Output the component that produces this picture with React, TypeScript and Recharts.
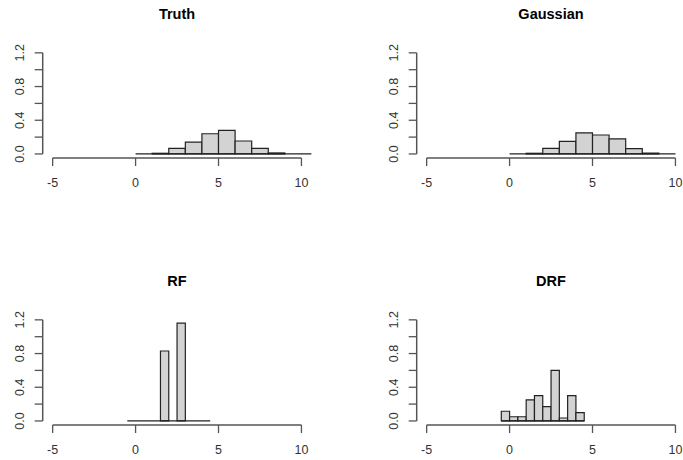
import React from "react";
import { ComposedChart, XAxis, YAxis, ReferenceArea, ReferenceLine } from "recharts";

const truthEdges = [0, 1, 2, 3, 4, 5, 6, 7, 8, 9, 10, 10.6];
const truthDens = [0, 0.008, 0.067, 0.14, 0.24, 0.28, 0.154, 0.067, 0.012, 0, 0];
const gaussEdges = [0, 1, 2, 3, 4, 5, 6, 7, 8, 9, 10];
const gaussDens = [0, 0.008, 0.067, 0.15, 0.25, 0.225, 0.18, 0.063, 0.01, 0];
const rfEdges = [-0.5, 0, 0.5, 1, 1.5, 2, 2.5, 3, 3.5, 4, 4.5];
const rfDens = [0, 0, 0, 0, 0.83, 0, 1.16, 0, 0, 0];
const drfEdges = [-0.5, 0, 0.5, 1, 1.5, 2, 2.5, 3, 3.5, 4, 4.5];
const drfDens = [0.115, 0.05, 0.05, 0.25, 0.3, 0.17, 0.6, 0.035, 0.3, 0.1];

const xTicks = [-5, 0, 5, 10];
const yTicks = [0, 0.2, 0.4, 0.6, 0.8, 1.0, 1.2];
const yLabels: Record<string, string> = { "0": "0.0", "0.4": "0.4", "0.8": "0.8", "1.2": "1.2" };

const FONT = "'Liberation Sans', Arial, sans-serif";
const AX = "#555";

const YTick = (props: any) => {
  const { x, y, payload } = props;
  const lab = yLabels[String(payload.value)];
  if (!lab) return null;
  const cx = x - 9;
  return (
    <text x={cx} y={y} transform={`rotate(-90 ${cx} ${y})`} textAnchor="middle" fontSize={12.5} fill="#333" fontFamily={FONT}>
      {lab}
    </text>
  );
};

function Panel({ title, edges, dens, left, top }: { title: string; edges: number[]; dens: number[]; left: number; top: number }) {
  const W = 341, H = 230;
  const m = { left: 42.7 - 30, right: W - 311.4, top: 48.8, bottom: H - 158 - 40 };
  return (
    <div style={{ position: "absolute", left, top, width: W, height: H }}>
      <div style={{ position: "absolute", left: 0, width: 354, top: 6, textAlign: "center", fontFamily: FONT, fontWeight: "bold", fontSize: 14.5, color: "#000" }}>
        {title}
      </div>
      <ComposedChart width={W} height={H} margin={m} data={[{ x: 0, y: 0 }]}>
        <XAxis type="number" dataKey="x" domain={[-5.6, 10.6]} ticks={xTicks} axisLine={false} tickLine={{ stroke: AX, strokeWidth: 1.3 }} tickSize={8}
          tick={{ fontSize: 12.5, fill: "#333", fontFamily: FONT }} tickMargin={12} interval={0} allowDataOverflow height={40} />
        <YAxis type="number" domain={[-0.048, 1.248]} ticks={yTicks} axisLine={false} tickLine={{ stroke: AX, strokeWidth: 1.3 }} tickSize={8}
          tick={<YTick />} interval={0} allowDataOverflow width={30} />
        <ReferenceLine segment={[{ x: -5, y: -0.048 }, { x: 10, y: -0.048 }]} stroke={AX} strokeWidth={1.5} ifOverflow="visible" />
        <ReferenceLine segment={[{ x: -5.6, y: 0 }, { x: -5.6, y: 1.2 }]} stroke={AX} strokeWidth={1.5} ifOverflow="visible" />
        <ReferenceLine segment={[{ x: edges[0], y: 0 }, { x: edges[edges.length - 1], y: 0 }]} stroke="#222" strokeWidth={1.3} ifOverflow="visible" />
        {dens.map((d, i) =>
          d > 0 ? (
            <ReferenceArea key={i} x1={edges[i]} x2={edges[i + 1]} y1={0} y2={d} fill="#d3d3d3" fillOpacity={1} stroke="#222" strokeWidth={1.2} ifOverflow="visible" />
          ) : null
        )}
      </ComposedChart>
    </div>
  );
}

export default function App() {
  return (
    <div style={{ position: "absolute", left: 0, top: 0, width: 683, height: 460, background: "#fff", overflow: "hidden" }}>
      <Panel title="Truth" edges={truthEdges} dens={truthDens} left={0} top={0} />
      <Panel title="Gaussian" edges={gaussEdges} dens={gaussDens} left={374} top={0} />
      <Panel title="RF" edges={rfEdges} dens={rfDens} left={0} top={267} />
      <Panel title="DRF" edges={drfEdges} dens={drfDens} left={374} top={267} />
    </div>
  );
}
